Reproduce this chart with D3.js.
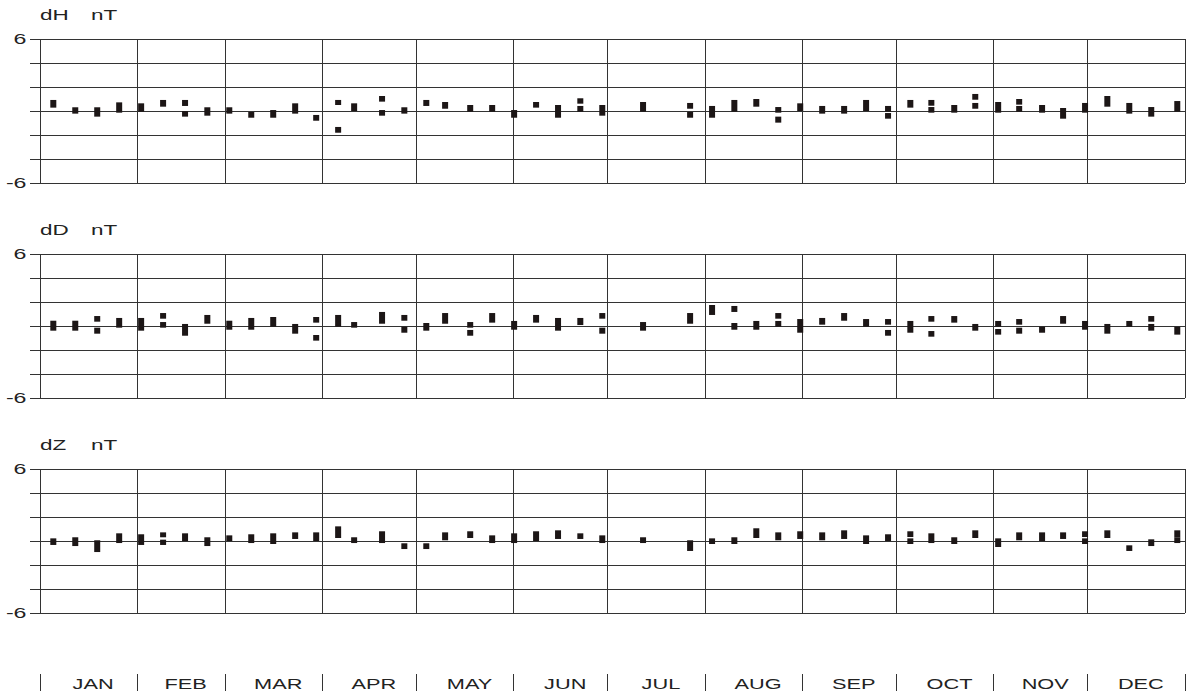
<!DOCTYPE html>
<html><head><meta charset="utf-8">
<script src="https://cdn.jsdelivr.net/npm/d3@7"></script>
<style>body{margin:0;background:#fff}svg{display:block}</style>
</head><body>
<svg id="chart" width="1187" height="694"></svg>
<script>
// ---- data ----
const months = ["JAN","FEB","MAR","APR","MAY","JUN","JUL","AUG","SEP","OCT","NOV","DEC"];
const monthDays = [31,28,31,30,31,30,31,31,30,31,30,31];
const yTicks = [-6,-4,-2,0,2,4,6];
const yLabelTicks = [-6,6];
const components = ["dH","dD","dZ"];
const unit = "nT";
// each mark: [day of year, low value, high value] in nT
const dH = [
[4.4,0.28,0.92],[11.4,-0.22,0.31],[18.4,-0.47,0.31],[25.4,-0.14,0.72],[32.4,-0.06,0.64],
[39.4,0.36,0.92],[46.4,0.42,0.92],[46.4,-0.47,0],[53.5,-0.39,0.31],[60.5,-0.22,0.31],
[67.5,-0.56,-0.08],[74.5,-0.56,0.08],[81.5,-0.22,0.64],[88.2,-0.81,-0.33],[95.2,0.5,0.92],
[95.2,-1.81,-1.33],[100.3,0,0.64],[109.2,0.78,1.25],[109.2,-0.39,0.08],[116.3,-0.22,0.31],
[123.3,0.42,0.92],[129.3,0.19,0.75],[137.3,-0.06,0.5],[144.3,-0.06,0.5],[151.3,-0.56,0.08],
[158.3,0.28,0.75],[165.3,-0.56,0.5],[172.4,0.61,1.06],[172.4,-0.06,0.42],[179.4,-0.39,0.5],
[192.4,-0.06,0.75],[207.4,0.19,0.67],[207.4,-0.56,-0.08],[214.4,-0.56,0.42],[221.5,-0.06,0.92],
[228.5,0.36,1.0],[235.5,-0.14,0.33],[235.5,-0.97,-0.47],[242.5,0,0.64],[249.5,-0.22,0.42],
[256.5,-0.22,0.42],[263.5,0,0.92],[270.5,-0.06,0.42],[270.5,-0.64,-0.17],[277.6,0.28,0.92],
[284.3,0.44,0.92],[284.3,-0.14,0.33],[291.6,-0.14,0.5],[298.3,0.94,1.42],[298.3,0.19,0.67],
[305.6,-0.14,0.75],[312.3,0.53,1.0],[312.3,-0.06,0.42],[319.6,-0.14,0.5],[326.3,-0.64,0.25],
[333.3,-0.14,0.67],[340.4,0.36,1.25],[347.4,-0.22,0.67],[354.4,-0.47,0.33],[362.7,-0.06,0.83]
];
const dD = [
[4.4,-0.39,0.44],[11.4,-0.39,0.44],[18.4,0.36,0.83],[18.4,-0.64,-0.14],[25.4,-0.14,0.67],
[32.4,-0.39,0.67],[39.4,0.61,1.08],[39.4,-0.14,0.33],[46.4,-0.81,0.17],[53.5,0.19,0.92],
[60.5,-0.31,0.44],[67.5,-0.31,0.67],[74.5,-0.06,0.75],[81.5,-0.64,0.17],[88.2,0.28,0.75],
[88.2,-1.22,-0.75],[95.2,-0.06,0.92],[100.3,-0.14,0.33],[109.2,0.19,1.17],[116.3,0.44,0.92],
[116.3,-0.56,-0.06],[123.3,-0.39,0.25],[129.3,0.19,1.08],[137.3,-0.14,0.33],[137.3,-0.81,-0.33],
[144.3,0.28,1.08],[151.3,-0.31,0.42],[158.3,0.28,0.92],[165.3,-0.39,0.67],[172.4,0.08,0.67],
[179.4,0.61,1.08],[179.4,-0.64,-0.14],[192.4,-0.39,0.33],[207.4,0.19,1.08],[214.4,0.92,1.75],
[221.5,1.17,1.67],[221.5,-0.31,0.25],[228.5,-0.31,0.42],[235.5,0.61,1.08],[235.5,-0.06,0.42],
[242.5,-0.56,0.58],[249.5,0.11,0.67],[256.5,0.44,1.08],[263.5,-0.06,0.58],[270.5,0.11,0.58],
[270.5,-0.81,-0.33],[277.6,-0.56,0.42],[284.3,0.36,0.83],[284.3,-0.89,-0.42],[291.6,0.28,0.83],
[298.3,-0.39,0.17],[305.6,-0.06,0.42],[305.6,-0.72,-0.25],[312.3,0.11,0.58],[312.3,-0.64,-0.14],
[319.6,-0.56,-0.06],[326.3,0.19,0.83],[333.3,-0.31,0.42],[340.4,-0.64,0.17],[347.4,-0.06,0.42],
[354.4,0.36,0.83],[354.4,-0.39,0.17],[362.7,-0.72,-0.06]
];
const dZ = [
[4.4,-0.33,0.22],[11.4,-0.42,0.31],[18.4,-0.92,0.06],[25.4,-0.17,0.64],[32.4,-0.33,0.56],
[39.4,0.31,0.72],[39.4,-0.33,0.11],[46.4,0,0.64],[53.5,-0.42,0.31],[60.5,0,0.47],
[67.5,-0.17,0.56],[74.5,-0.25,0.64],[81.5,0.17,0.72],[88.2,0,0.72],[95.2,0.25,1.22],
[100.3,-0.17,0.31],[109.2,-0.17,0.81],[116.3,-0.67,-0.19],[123.3,-0.67,-0.19],[129.3,0.06,0.72],
[137.3,0.25,0.81],[144.3,-0.17,0.47],[151.3,-0.17,0.64],[158.3,0,0.81],[165.3,0.17,0.89],
[172.4,0.17,0.64],[179.4,-0.17,0.47],[192.4,-0.17,0.31],[207.4,-0.83,0.06],[214.4,-0.25,0.22],
[221.5,-0.25,0.31],[228.5,0.25,1.06],[235.5,0.06,0.72],[242.5,0.17,0.81],[249.5,0.06,0.72],
[256.5,0.17,0.89],[263.5,-0.25,0.47],[270.5,0,0.56],[277.6,0.33,0.81],[277.6,-0.25,0.22],
[284.3,-0.17,0.64],[291.6,-0.25,0.31],[298.3,0.25,0.89],[305.6,-0.5,0.22],[312.3,0.06,0.72],
[319.6,0,0.72],[326.3,0.17,0.72],[333.3,0.33,0.81],[333.3,-0.25,0.22],[340.4,0.25,0.89],
[347.4,-0.83,-0.36],[354.4,-0.42,0.14],[362.7,0.31,0.89],[362.7,-0.17,0.31]
];
const series = [dH, dD, dZ];

// ---- layout ----
const svg = d3.select("#chart");
const left = 39.5, right = 1184.5;
const panelTops = [39, 254, 469];
const panelH = 144;
const font = "'Liberation Sans', Arial, sans-serif";
const ink = "#1c1616";
const gridCol = "#333";

const x = d3.scaleLinear().domain([0, 365]).range([left, right]);
const monthStarts = [0];
monthDays.forEach(d => monthStarts.push(monthStarts[monthStarts.length-1] + d));

function stretchedText(g, tx, ty, str, anchor, size, sx) {
  g.append("g").attr("transform", `translate(${tx},${ty}) scale(${sx},1)`)
    .append("text").attr("x", 0).attr("y", 0)
    .attr("text-anchor", anchor || "start")
    .attr("font-family", font).attr("font-size", size)
    .attr("fill", "#222").text(str);
}

components.forEach((comp, i) => {
  const top = panelTops[i];
  const y = d3.scaleLinear().domain([-6, 6]).range([top + panelH, top]);
  const g = svg.append("g");

  // title
  stretchedText(g, 40, top - 19, comp, "start", 15.5, 1.45);
  stretchedText(g, 91, top - 19, unit, "start", 15.5, 1.45);

  // horizontal grid + left tick stubs
  const yAxis = d3.axisLeft(y).tickValues(yTicks)
    .tickSize(-(right - left + 10)).tickSizeOuter(0).tickPadding(3)
    .tickFormat(() => "");
  const ya = g.append("g").attr("transform", `translate(${left - 10},0)`).call(yAxis);
  ya.select(".domain").remove();
  ya.selectAll(".tick line").attr("stroke", gridCol).attr("stroke-width", 1)
    .attr("shape-rendering", "crispEdges");
  yLabelTicks.forEach(v => {
    stretchedText(g, left - 13, y(v) + 5, String(v), "end", 14.5, 1.6);
  });

  // vertical month grid
  const xAxis = d3.axisBottom(x).tickValues(monthStarts)
    .tickSize(-panelH).tickSizeOuter(0).tickFormat(() => "");
  const xa = g.append("g").attr("transform", `translate(0,${top + panelH})`).call(xAxis);
  xa.select(".domain").remove();
  xa.selectAll(".tick line").attr("stroke", gridCol).attr("stroke-width", 1)
    .attr("shape-rendering", "crispEdges");

  // marks
  g.append("g").selectAll("rect").data(series[i]).join("rect")
    .attr("x", d => x(d[0]) - 3)
    .attr("width", 6)
    .attr("y", d => y(d[2]))
    .attr("height", d => y(d[1]) - y(d[2]))
    .attr("fill", ink);
});

// bottom month axis
const mg = svg.append("g");
const mAxis = d3.axisBottom(x).tickValues(monthStarts).tickSize(17).tickFormat(() => "");
const ma = mg.append("g").attr("transform", "translate(0,674)").call(mAxis);
ma.select(".domain").remove();
ma.selectAll(".tick line").attr("stroke", "#333").attr("stroke-width", 1)
  .attr("shape-rendering", "crispEdges");
months.forEach((m, i) => {
  const cx = (x(monthStarts[i]) + x(monthStarts[i+1])) / 2 + 5;
  stretchedText(mg, cx, 689, m, "middle", 15, 1.45);
});
</script>
</body></html>
